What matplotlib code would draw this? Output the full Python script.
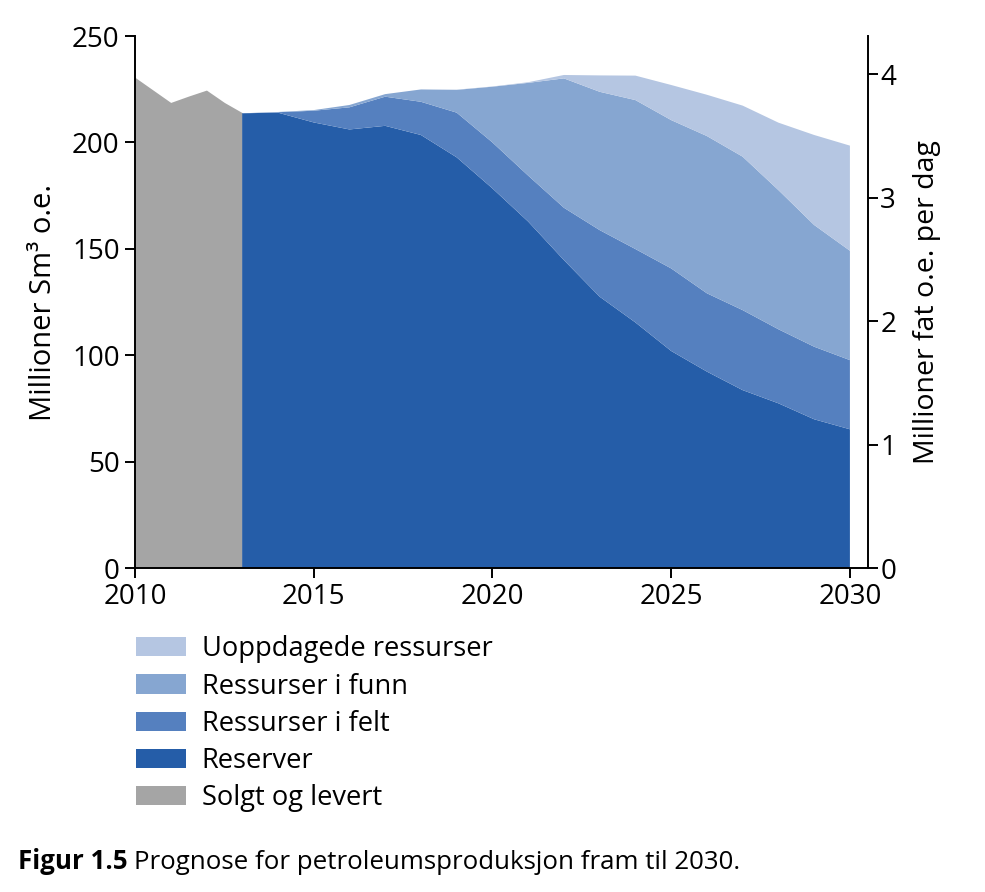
import matplotlib
matplotlib.use("Agg")
import matplotlib.pyplot as plt
from matplotlib.patches import Patch
import numpy as np

plt.rcParams['font.family'] = ['Open Sans', 'DejaVu Sans']

# ---- data (Millioner Sm3 o.e.) ----
hist_years = [2010, 2010.5, 2011, 2011.5, 2012, 2012.5, 2013]
solgt_og_levert = [230.6, 224.7, 218.8, 221.8, 224.6, 218.8, 214.0]

years = [2013, 2014, 2015, 2016, 2017, 2018, 2019, 2020, 2021, 2022,
         2023, 2024, 2025, 2026, 2027, 2028, 2029, 2030]
reserver = [213.7, 214.0, 209.4, 206.1, 207.8, 203.5, 193.0, 178.4, 162.8, 144.7,
            127.5, 115.4, 102.0, 92.3, 83.6, 77.4, 69.9, 65.2]
ressurser_i_felt = [0.0, 0.2, 5.5, 10.4, 13.7, 15.6, 21.0, 21.6, 21.6, 24.6,
                    31.3, 34.5, 38.8, 36.8, 37.6, 34.8, 34.1, 32.5]
ressurser_i_funn = [0.0, 0.1, 0.3, 1.1, 1.2, 5.8, 10.7, 26.2, 43.6, 60.8,
                    65.0, 70.0, 69.7, 73.9, 72.1, 65.4, 57.2, 51.4]
uoppdagede = [0.0, 0.0, 0.0, 0.0, 0.0, 0.0, 0.1, 0.1, 0.3, 1.6,
              7.7, 11.5, 16.5, 19.4, 24.0, 31.7, 42.3, 49.4]

labels = ["Uoppdagede ressurser", "Ressurser i funn", "Ressurser i felt",
          "Reserver", "Solgt og levert"]
x_ticks = [2010, 2015, 2020, 2025, 2030]
y_ticks = [0, 50, 100, 150, 200, 250]
y2_ticks = [0, 1, 2, 3, 4]

c_grey = "#a5a5a5"
c_res = "#255da8"
c_felt = "#5580bf"
c_funn = "#86a6d1"
c_uopp = "#b5c6e2"

SM3_TO_MBD = 6.2898 / 365.0

fig = plt.figure(figsize=(9.85, 8.92), dpi=100)
ax = fig.add_axes([0.137, 0.3632, 0.744, 0.5964])

ax.fill_between(hist_years, 0, solgt_og_levert, color=c_grey, lw=0)
ax.stackplot(years, reserver, ressurser_i_felt, ressurser_i_funn, uoppdagede,
             colors=[c_res, c_felt, c_funn, c_uopp], lw=0)

ax.set_xlim(2010, 2030.5)
ax.set_ylim(0, 250)
ax.set_xticks(x_ticks)
ax.set_yticks(y_ticks)
ax.spines['top'].set_visible(False)
ax.spines['right'].set_visible(False)
for s in ['left', 'bottom']:
    ax.spines[s].set_linewidth(1.4)
ax.tick_params(axis='both', direction='out', length=7, width=1.4,
               labelsize=20)
ax.tick_params(axis='y', pad=4)
ax.tick_params(axis='x', pad=4)
ax.set_ylabel("Millioner Sm³ o.e.", fontsize=21, labelpad=10)

ax2 = ax.twinx()
ax2.set_ylim(0, 250 * SM3_TO_MBD)
ax2.set_yticks(y2_ticks)
for s in ['top', 'left', 'bottom']:
    ax2.spines[s].set_visible(False)
ax2.spines['right'].set_linewidth(1.4)
ax2.tick_params(axis='y', direction='out', length=7, width=1.4,
                labelsize=20, pad=2)
ax2.set_ylabel("Millioner fat o.e. per dag", fontsize=20.5, labelpad=12)

handles = [Patch(facecolor=c, edgecolor='none') for c in
           [c_uopp, c_funn, c_felt, c_res, c_grey]]
fig.legend(handles, labels, loc='upper left',
           bbox_to_anchor=(0.127, 0.300), frameon=False, fontsize=19.6,
           handlelength=1.84, handleheight=0.7, handletextpad=0.58,
           labelspacing=0.34, borderaxespad=0)

t1 = fig.text(0.018, 0.026, "Figur 1.5", fontsize=18.6, fontweight='bold',
              ha='left', va='baseline')
fig.canvas.draw()
bb = t1.get_window_extent(renderer=fig.canvas.get_renderer())
x_next = (bb.x1 + 7) / fig.bbox.width
fig.text(x_next, 0.026, "Prognose for petroleumsproduksjon fram til 2030.",
         fontsize=18.6, ha='left', va='baseline')

fig.savefig("out.png", dpi=100)
